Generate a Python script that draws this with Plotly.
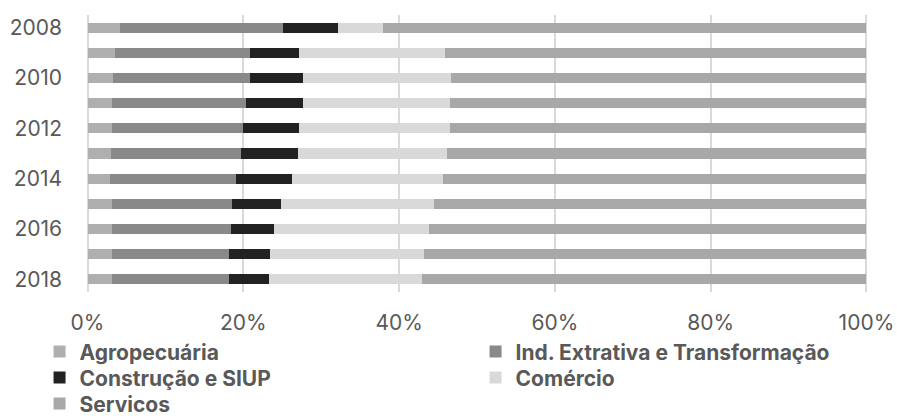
import plotly.graph_objects as go

years = [2008, 2009, 2010, 2011, 2012, 2013, 2014, 2015, 2016, 2017, 2018]
agropecuaria = [4.2, 3.5, 3.3, 3.2, 3.1, 3.0, 2.9, 3.1, 3.2, 3.2, 3.2]
ind_extrativa = [20.9, 17.3, 17.5, 17.2, 16.8, 16.7, 16.2, 15.4, 15.2, 15.0, 14.9]
construcao = [7.0, 6.3, 6.9, 7.2, 7.3, 7.3, 7.1, 6.3, 5.5, 5.2, 5.2]
comercio = [5.8, 18.8, 18.9, 18.9, 19.3, 19.2, 19.4, 19.7, 20.0, 19.8, 19.6]
servicos = [62.1, 54.1, 53.4, 53.5, 53.5, 53.8, 54.4, 55.5, 56.1, 56.8, 57.1]

series = [
    ("Agropecuária", agropecuaria, "#afafaf", "legend"),
    ("Ind. Extrativa e Transformação", ind_extrativa, "#898989", "legend"),
    ("Construção e SIUP", construcao, "#222222", "legend2"),
    ("Comércio", comercio, "#d9d9d9", "legend2"),
    ("Servicos", servicos, "#a8a8a8", "legend3"),
]

x_ticks = [0, 20, 40, 60, 80, 100]
x_ticktext = ["0%", "20%", "40%", "60%", "80%", "100%"]
y_ticks = [2008, 2010, 2012, 2014, 2016, 2018]

FONT = "Inter, Liberation Sans, Arial, sans-serif"

fig = go.Figure()
for name, vals, color, leg in series:
    fig.add_trace(go.Bar(
        y=years, x=vals, name=name, orientation="h", legend=leg,
        marker=dict(color=color, line=dict(width=0)),
    ))


def legend_row(y):
    return dict(
        orientation="h", x=-0.0594, xanchor="left", y=y, yanchor="top",
        entrywidth=391, entrywidthmode="pixels",
        itemwidth=30, traceorder="normal", tracegroupgap=0,
        font=dict(family=FONT, size=21, color="#595959", weight="bold"),
        bgcolor="rgba(0,0,0,0)",
    )


fig.update_layout(
    barmode="stack",
    bargap=0.6,
    width=897, height=419,
    margin=dict(l=86, r=29, t=15, b=127, autoexpand=False),
    paper_bgcolor="white", plot_bgcolor="white",
    font=dict(family=FONT, size=21, color="#595959"),
    xaxis=dict(
        range=[-0.2, 100.2], tickvals=x_ticks, ticktext=x_ticktext,
        showgrid=True, gridcolor="#d9d9d9", gridwidth=1.5,
        zeroline=False, showline=False, ticks="", automargin=False,
        ticklabelstandoff=16,
        tickfont=dict(family=FONT, size=21, color="#595959"),
    ),
    yaxis=dict(
        range=[2018.5, 2007.5], tickvals=y_ticks,
        showgrid=False, zeroline=False, showline=False, ticks="", automargin=False,
        ticklabelstandoff=23,
        tickfont=dict(family=FONT, size=21, color="#595959"),
    ),
    legend=legend_row(-0.1422),
    legend2=legend_row(-0.2361),
    legend3=legend_row(-0.33),
)

fig.write_html("out.html", config={"displayModeBar": False},
               post_script="document.body.style.margin='0px';")
